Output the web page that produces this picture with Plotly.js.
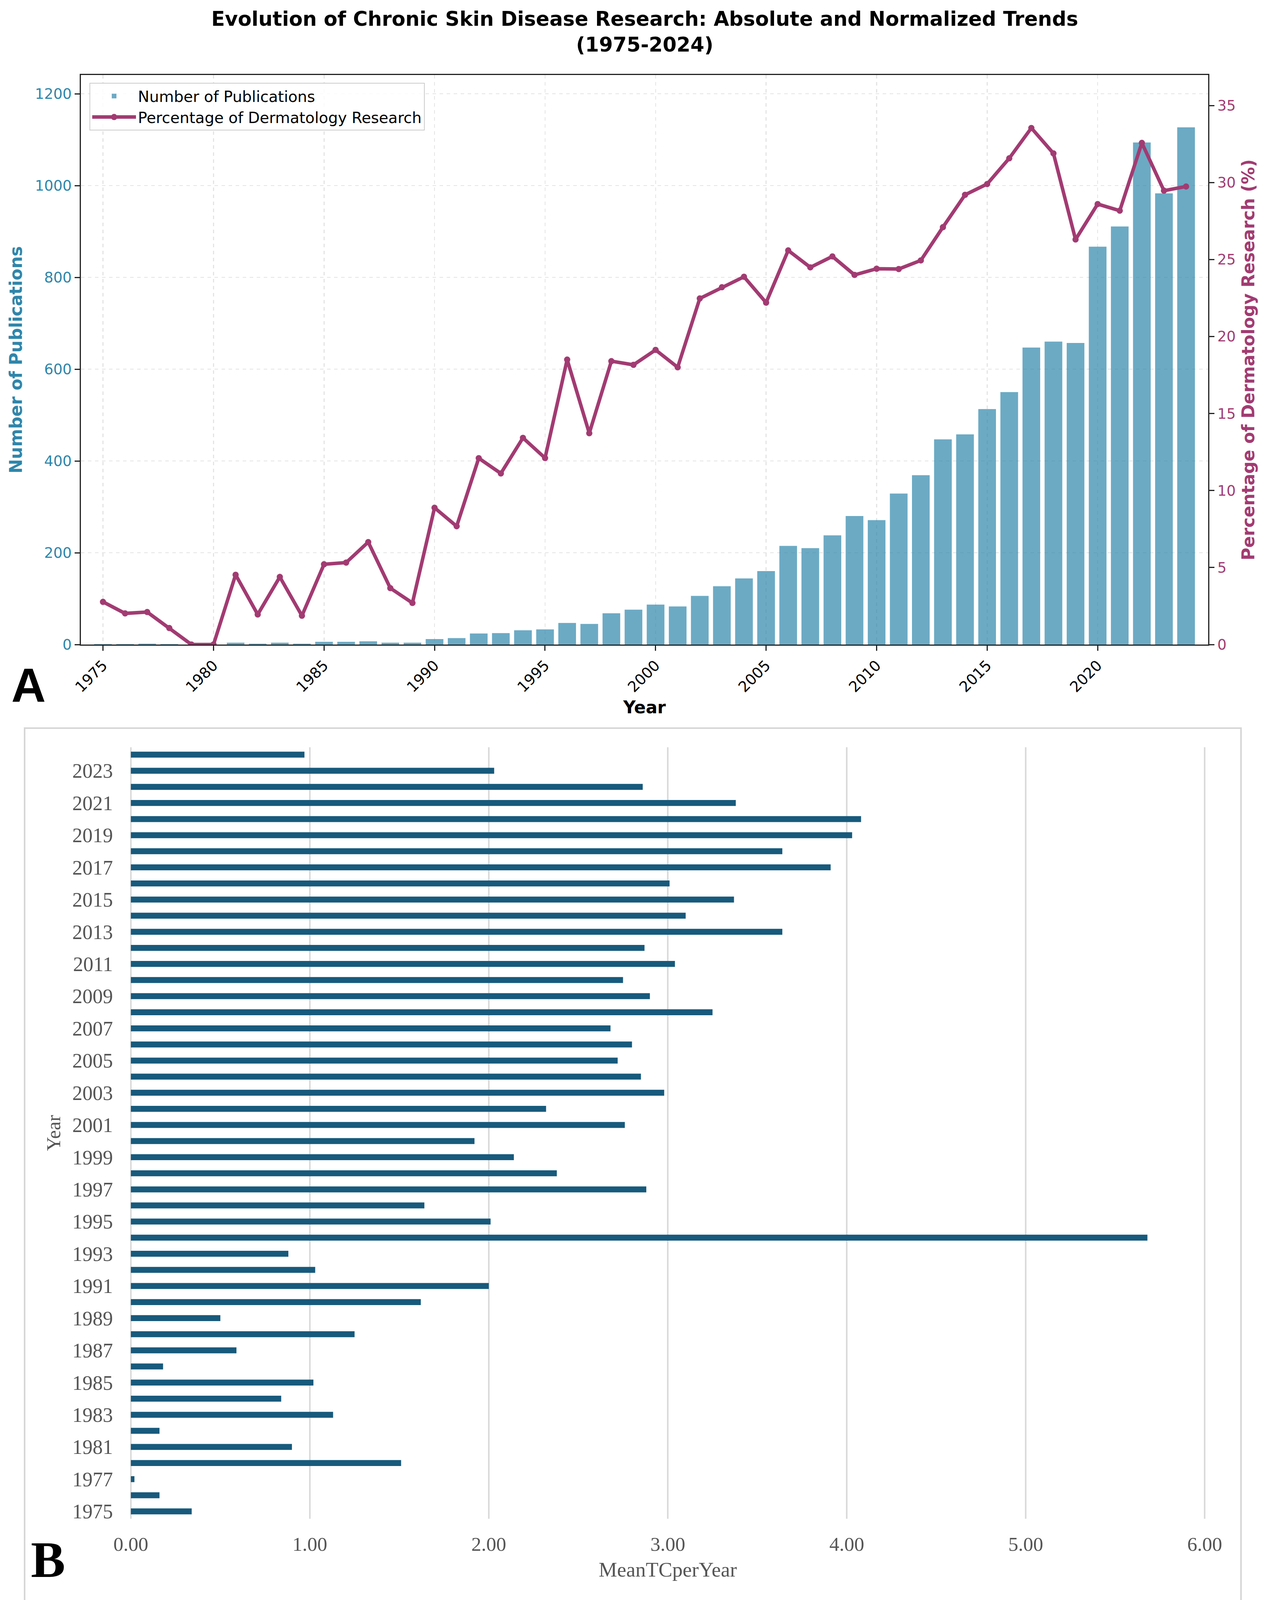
<!DOCTYPE html>
<html>
<head>
<meta charset="utf-8">
<script src="https://cdn.plot.ly/plotly-3.0.1.min.js"></script>
<style>
html,body{margin:0;padding:0;background:#ffffff;}
#chart{width:3240px;height:4099px;}
</style>
</head>
<body>
<div id="chart"></div>
<script>
// ---------- Panel A data ----------
const years = [1975,1976,1977,1978,1979,1980,1981,1982,1983,1984,1985,1986,1987,1988,1989,
  1990,1991,1992,1993,1994,1995,1996,1997,1998,1999,2000,2001,2002,2003,2004,2005,2006,2007,
  2008,2009,2010,2011,2012,2013,2014,2015,2016,2017,2018,2019,2020,2021,2022,2023,2024];
const publications = [1,1,2,1,0,0,4,2,4,2,6,6,7,4,4,
  12,14,24,25,31,33,47,45,68,76,87,83,106,127,144,160,215,210,
  238,280,271,329,369,447,458,513,550,647,660,657,867,911,1094,983,1127];
const dermPercent = [2.77,2.02,2.11,1.07,0,0,4.53,1.95,4.39,1.87,5.21,5.32,6.65,3.66,2.70,
  8.88,7.68,12.10,11.11,13.42,12.11,18.5,13.72,18.4,18.16,19.13,18.0,22.47,23.2,23.88,22.2,25.59,24.49,
  25.2,24.0,24.4,24.38,24.94,27.1,29.2,29.9,31.57,33.54,31.89,26.3,28.6,28.17,32.57,29.47,29.74];
const xTickYears = [1975,1980,1985,1990,1995,2000,2005,2010,2015,2020];

// ---------- Panel B data ----------
const mtcYears = [1975,1976,1977,1978,1981,1982,1983,1984,1985,1986,1987,1988,1989,1990,
  1991,1992,1993,1994,1995,1996,1997,1998,1999,2000,2001,2002,2003,2004,2005,2006,2007,
  2008,2009,2010,2011,2012,2013,2014,2015,2016,2017,2018,2019,2020,2021,2022,2023,2024];
const meanTCperYear = [0.34,0.16,0.02,1.51,0.90,0.16,1.13,0.84,1.02,0.18,0.59,1.25,0.50,1.62,
  2.00,1.03,0.88,5.68,2.01,1.64,2.88,2.38,2.14,1.92,2.76,2.32,2.98,2.85,2.72,2.80,2.68,
  3.25,2.90,2.75,3.04,2.87,3.64,3.10,3.37,3.01,3.91,3.64,4.03,4.08,3.38,2.86,2.03,0.97];

// ---------- layout helpers (pixel -> paper) ----------
const W = 3240, H = 4099;
const fx = p => p / W;
const fy = p => 1 - p / H;

const blue = '#2E86AB';
const plum = '#A23B72';
const sans = 'DejaVu Sans';
const serif = 'Liberation Serif';

const mtcLabels = mtcYears.map(String);
const mtcTickVals = mtcLabels.filter((_, i) => i % 2 === 0);

const traces = [
  {
    type: 'bar', x: years, y: publications, width: 0.8,
    name: 'Number of Publications',
    marker: {color: 'rgba(46,134,171,0.7)', line: {width: 0}},
    xaxis: 'x', yaxis: 'y'
  },
  {
    type: 'scatter', mode: 'lines+markers', x: years, y: dermPercent,
    name: 'Percentage of Dermatology Research',
    line: {color: plum, width: 9},
    marker: {color: plum, size: 16},
    xaxis: 'x', yaxis: 'y2'
  },
  {
    type: 'bar', orientation: 'h', y: mtcLabels, x: meanTCperYear, width: 0.37,
    marker: {color: '#175a7c', line: {width: 0}},
    showlegend: false, xaxis: 'x2', yaxis: 'y3'
  }
];

const layout = {
  width: W, height: H,
  margin: {l: 0, r: 0, t: 0, b: 0},
  paper_bgcolor: '#ffffff', plot_bgcolor: 'rgba(0,0,0,0)',
  bargap: 0.2,
  title: {
    text: '<b>Evolution of Chronic Skin Disease Research: Absolute and Normalized Trends</b><br><b>(1975-2024)</b>',
    x: fx(1650), xanchor: 'center', xref: 'paper',
    y: fy(66), yanchor: 'top', yref: 'paper',
    font: {family: sans, size: 51, color: '#000000'}
  },
  showlegend: true,
  legend: {
    x: fx(229), y: fy(212), xanchor: 'left', yanchor: 'top',
    bgcolor: 'rgba(255,255,255,0.85)', bordercolor: '#cccccc', borderwidth: 2,
    font: {family: sans, size: 39, color: '#000000'},
    traceorder: 'normal', itemwidth: 112
  },
  xaxis: {
    domain: [fx(207), fx(3092)], range: [1974, 2025],
    tickmode: 'array', tickvals: xTickYears, ticktext: xTickYears.map(String),
    tickangle: -45, tickfont: {family: sans, size: 38, color: '#000000'},
    ticks: 'outside', ticklen: 13, tickwidth: 3, tickcolor: '#222222',
    showline: true, linecolor: '#222222', linewidth: 3, mirror: true,
    showgrid: true, gridcolor: '#e4e4e4', gridwidth: 2.5, griddash: 'dash',
    zeroline: false, anchor: 'y',
    title: {text: '<b>Year</b>', font: {family: sans, size: 44, color: '#000000'}, standoff: 16}
  },
  yaxis: {
    domain: [fy(1650), fy(192)], range: [0, 1241],
    tickmode: 'linear', tick0: 0, dtick: 200,
    tickfont: {family: sans, size: 37, color: blue},
    ticks: 'outside', ticklen: 13, tickwidth: 3, tickcolor: '#222222',
    showline: true, linecolor: '#222222', linewidth: 3,
    showgrid: true, gridcolor: '#e4e4e4', gridwidth: 2.5, griddash: 'dash',
    zeroline: false, anchor: 'x',
    title: {text: '<b>Number of Publications</b>', font: {family: sans, size: 44, color: blue}, standoff: 20}
  },
  yaxis2: {
    overlaying: 'y', side: 'right', anchor: 'x', range: [0, 36.98],
    tickmode: 'linear', tick0: 0, dtick: 5,
    tickfont: {family: sans, size: 37, color: plum},
    ticks: 'outside', ticklen: 13, tickwidth: 3, tickcolor: '#222222',
    showline: true, linecolor: '#222222', linewidth: 3,
    showgrid: false, zeroline: false,
    title: {text: '<b>Percentage of Dermatology Research (%)</b>', font: {family: sans, size: 44, color: plum}, standoff: 18}
  },
  xaxis2: {
    domain: [fx(312), fx(3106)], range: [-0.05, 6.05], anchor: 'y3',
    tickmode: 'linear', tick0: 0, dtick: 1, tickformat: '.2f',
    tickfont: {family: serif, size: 51, color: '#555555'},
    ticks: '', ticklabelstandoff: 30,
    showline: false, showgrid: true, gridcolor: '#dadada', gridwidth: 4, zeroline: false,
    title: {text: 'MeanTCperYear', font: {family: serif, size: 53, color: '#555555'}, standoff: 18}
  },
  yaxis3: {
    domain: [fy(3888), fy(1913)], anchor: 'x2',
    type: 'category', categoryorder: 'array', categoryarray: mtcLabels,
    range: [-0.46, 47.46],
    tickmode: 'array', tickvals: mtcTickVals, ticktext: mtcTickVals,
    tickfont: {family: serif, size: 52, color: '#555555'},
    ticks: '', ticklabelstandoff: 22,
    showline: false, showgrid: false, zeroline: false,
    title: {text: 'Year', font: {family: serif, size: 50, color: '#555555'}, standoff: 14}
  },
  shapes: [
    {type: 'rect', xref: 'paper', yref: 'paper', x0: fx(63), x1: fx(3176), y0: -0.02, y1: fy(1864),
     line: {color: '#d6d6d6', width: 4}, fillcolor: 'rgba(0,0,0,0)', layer: 'below'}
  ],
  annotations: [
    {text: '<b>A</b>', xref: 'paper', yref: 'paper', x: fx(73), y: fy(1755), xanchor: 'center', yanchor: 'middle',
     showarrow: false, font: {family: 'Liberation Sans', size: 122, color: '#000000'}},
    {text: '<b>B</b>', xref: 'paper', yref: 'paper', x: fx(123), y: fy(3992), xanchor: 'center', yanchor: 'middle',
     showarrow: false, font: {family: serif, size: 132, color: '#000000'}}
  ]
};

Plotly.newPlot('chart', traces, layout, {displayModeBar: false, staticPlot: true});
</script>
</body>
</html>
